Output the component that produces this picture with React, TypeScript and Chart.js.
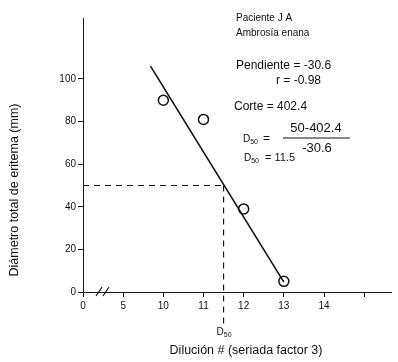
import React, { useEffect, useRef } from "react";
import { Chart, registerables } from "chart.js";

Chart.register(...registerables);

// Dilution axis (broken between 0-5-10): tick values and labels
const xTickValues = [0, 5, 10, 11, 12, 13, 14, 15];
const xTickLabels = ["0", "5", "10", "11", "12", "13", "14", ""];
// Measured points
const dilutions = [10, 11, 12, 13];
const diameters = [90, 81, 39, 5];
// Regression line endpoints
const fitX = [9.68, 13];
const fitY = [106, 4.6];
// D50 construction
const d50Value = 11.5;
const d50Level = 50;
const d50Bottom = -15;
const yTicks = [0, 20, 40, 60, 80, 100];

const FONT = "'Liberation Sans', Arial, sans-serif";

// Map dilution value to broken-axis position
const toPos = (v: number) => {
  if (v >= 9) return v - 8;
  const i = xTickValues.indexOf(v);
  return i >= 0 ? i : v / 5;
};

const textPlugin = {
  id: "textPlugin",
  afterDraw(chart: any) {
    const ctx = chart.ctx as CanvasRenderingContext2D;
    const xs = chart.scales.x;
    const ys = chart.scales.y;
    ctx.save();
    ctx.fillStyle = "#111";
    ctx.strokeStyle = "#111";
    // axis titles
    ctx.font = `12.5px ${FONT}`;
    ctx.textAlign = "center";
    ctx.textBaseline = "middle";
    ctx.fillText("Dilución # (seriada factor 3)", 246, 351);
    ctx.save();
    ctx.translate(15, 190);
    ctx.rotate(-Math.PI / 2);
    ctx.fillText("Diámetro total de eritema (mm)", 0, 0);
    ctx.restore();

    // axis break marks
    const by = ys.getPixelForValue(0);
    ctx.lineWidth = 1.2;
    [99, 106].forEach((bx) => {
      ctx.beginPath();
      ctx.moveTo(bx - 3, by + 4);
      ctx.lineTo(bx + 3, by - 5);
      ctx.stroke();
    });

    const drawD = (x: number, y: number, size: number) => {
      ctx.textAlign = "left";
      ctx.font = `${size}px ${FONT}`;
      ctx.fillText("D", x, y);
      const w = ctx.measureText("D").width;
      ctx.font = `${Math.round(size * 0.65)}px ${FONT}`;
      ctx.fillText("50", x + w, y + size * 0.3);
      return w + ctx.measureText("50").width;
    };
    // D50 label under axis
    const dx = xs.getPixelForValue(toPos(d50Value));
    drawD(dx - 7, 332, 10);

    // annotation block
    ctx.textAlign = "left";
    ctx.font = `10px ${FONT}`;
    ctx.fillText("Paciente J A", 236, 18);
    ctx.fillText("Ambrosía enana", 236, 33);
    ctx.font = `12px ${FONT}`;
    ctx.fillText("Pendiente = -30.6", 236, 66);
    ctx.fillText("r = -0.98", 276, 81);
    ctx.fillText("Corte = 402.4", 234, 107);
    drawD(243, 139, 10);
    ctx.font = `12px ${FONT}`;
    ctx.textAlign = "left";
    ctx.fillText("=", 263, 139);
    ctx.font = `13px ${FONT}`;
    ctx.textAlign = "center";
    ctx.fillText("50-402.4", 316, 128);
    ctx.fillText("-30.6", 317, 148);
    ctx.lineWidth = 1;
    ctx.beginPath();
    ctx.moveTo(283, 138);
    ctx.lineTo(350, 138);
    ctx.stroke();
    drawD(244, 158, 10);
    ctx.font = `11px ${FONT}`;
    ctx.textAlign = "left";
    ctx.fillText("= 11.5", 265, 158);
    ctx.restore();
  },
};

export default function App() {
  const ref = useRef<HTMLCanvasElement>(null);
  useEffect(() => {
    if (!ref.current) return;
    const axisColor = "#1a1a1a";
    const chart = new Chart(ref.current, {
      type: "scatter",
      data: {
        datasets: [
          {
            label: "fit",
            type: "line",
            data: fitX.map((x, i) => ({ x: toPos(x), y: fitY[i] })),
            borderColor: "#111",
            borderWidth: 1.6,
            pointRadius: 0,
            showLine: true,
            fill: false,
          } as any,
          {
            label: "d50h",
            type: "line",
            data: [
              { x: toPos(0), y: d50Level },
              { x: toPos(d50Value), y: d50Level },
            ],
            borderColor: "#111",
            borderWidth: 1.1,
            borderDash: [6, 5],
            pointRadius: 0,
            fill: false,
          } as any,
          {
            label: "d50v",
            type: "line",
            data: [
              { x: toPos(d50Value), y: d50Level },
              { x: toPos(d50Value), y: d50Bottom },
            ],
            borderColor: "#111",
            borderWidth: 1.1,
            borderDash: [6, 5],
            pointRadius: 0,
            fill: false,
            clip: false,
          } as any,
          {
            label: "points",
            data: dilutions.map((d, i) => ({ x: toPos(d), y: diameters[i] })),
            pointRadius: 5,
            pointBackgroundColor: "#fff",
            pointBorderColor: "#111",
            pointBorderWidth: 1.5,
            clip: false,
          } as any,
        ],
      },
      options: {
        animation: false,
        responsive: false,
        layout: { padding: { left: 33, top: 18, right: 0, bottom: 0 } },
        plugins: { legend: { display: false }, tooltip: { enabled: false } },
        scales: {
          x: {
            type: "linear",
            min: 0,
            max: 7.68,
            afterFit: (s: any) => {
              s.height = 70;
            },
            afterBuildTicks: (s: any) => {
              s.ticks = xTickValues.map((_, i) => ({ value: i }));
            },
            ticks: {
              autoSkip: false,
              padding: 3,
              color: "#111",
              font: { family: FONT, size: 10 },
              callback: (v: any) => xTickLabels[Number(v)] ?? "",
            },
            grid: { drawOnChartArea: false, drawTicks: true, tickLength: 5, color: axisColor },
            border: { display: true, color: axisColor, width: 1 },
          },
          y: {
            type: "linear",
            min: 0,
            max: 128.6,
            afterFit: (s: any) => {
              s.width = 50;
            },
            afterBuildTicks: (s: any) => {
              s.ticks = yTicks.map((v) => ({ value: v }));
            },
            ticks: {
              padding: 2,
              color: "#111",
              font: { family: FONT, size: 10 },
            },
            grid: { drawOnChartArea: false, drawTicks: true, tickLength: 5, color: axisColor },
            border: { display: true, color: axisColor, width: 1 },
          },
        },
      },
      plugins: [textPlugin],
    });
    return () => chart.destroy();
  }, []);
  return (
    <div style={{ position: "fixed", left: 0, top: 0, width: 398, height: 362, background: "#fff" }}>
      <canvas ref={ref} width={398} height={362} />
    </div>
  );
}
